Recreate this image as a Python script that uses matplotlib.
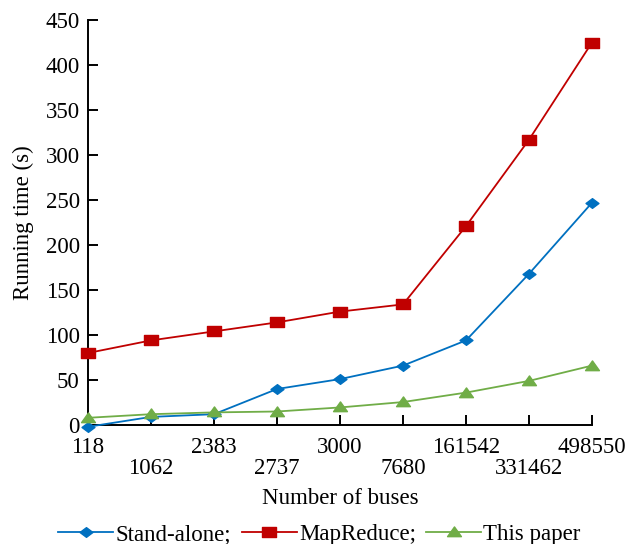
import matplotlib
matplotlib.use("Agg")
import matplotlib.pyplot as plt
from matplotlib.path import Path

plt.rcParams['font.family'] = ['Liberation Serif', 'DejaVu Serif']

buses = ["118", "1062", "2383", "2737", "3000", "7680", "161542", "331462", "498550"]
stand_alone = [-2, 9, 12, 40, 51, 66, 94, 168, 247]
map_reduce = [80, 94, 104, 114, 126, 134, 221, 317, 425]
this_paper = [8, 12, 14, 15, 19.5, 25.5, 36, 49, 66]

# slightly flattened marker shapes
diamond = Path([(-1, 0), (0, 0.75), (1, 0), (0, -0.75), (-1, 0)], closed=True)
rect = Path([(-1, -0.68), (1, -0.68), (1, 0.68), (-1, 0.68), (-1, -0.68)], closed=True)
tri = Path([(-1, -0.6), (1, -0.6), (0, 0.8), (-1, -0.6)], closed=True)

FS = 16.5
fig = plt.figure(figsize=(6.29, 5.44), dpi=100)
ax = fig.add_axes([88/629, 1 - 425/544, (592 - 88)/629, (425 - 20)/544])

x = list(range(len(buses)))
ax.plot(x, stand_alone, color='#0070C0', marker=diamond, markersize=9.3, lw=1.3,
        label='Stand-alone;', clip_on=False, zorder=3)
ax.plot(x, map_reduce, color='#C00000', marker=rect, markersize=10.2, lw=1.3,
        label='MapReduce;', clip_on=False, zorder=3)
ax.plot(x, this_paper, color='#70AD47', marker=tri, markersize=10, lw=1.3,
        label='This paper', clip_on=False, zorder=3)

ax.set_xlim(0, len(buses) - 1)
ax.set_ylim(0, 450)
ax.set_yticks(range(0, 451, 50))

# staggered category labels: even positions on the upper row, odd on the lower row
even = [i for i in x if i % 2 == 0]
odd = [i for i in x if i % 2 == 1]
ax.set_xticks(even)
ax.set_xticklabels([buses[i] for i in even])
ax.set_xticks(odd, minor=True)
ax.set_xticklabels([buses[i] for i in odd], minor=True)

for s in ('top', 'right'):
    ax.spines[s].set_visible(False)
for s in ('left', 'bottom'):
    ax.spines[s].set_linewidth(1.4)
ax.tick_params(axis='both', which='both', direction='in', length=7, width=1.4, labelsize=FS)
ax.tick_params(axis='y', pad=6)
ax.tick_params(axis='x', which='major', pad=8.5)
ax.tick_params(axis='x', which='minor', pad=24)

ax.set_xlabel('Number of buses', fontsize=FS, labelpad=6)
ax.set_ylabel('Running time (s)', fontsize=FS, labelpad=8)

fig.legend(loc='center', bbox_to_anchor=(0.508, 0.018), ncol=3, frameon=False,
           fontsize=FS, handlelength=2.4, handletextpad=0.1, columnspacing=0.45)

fig.savefig('out.png', dpi=100)
